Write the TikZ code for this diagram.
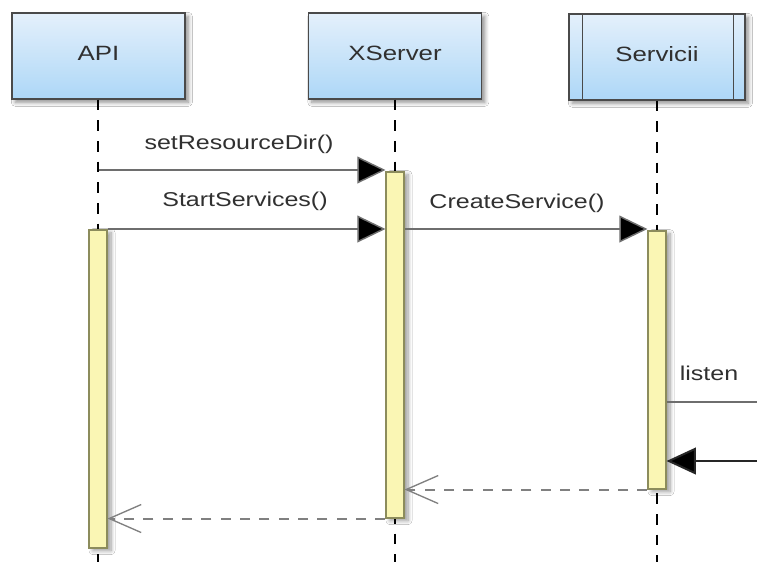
\documentclass[tikz,border=0pt]{standalone}
\usepackage{fontspec}
\newfontfamily\lblfont[FakeStretch=1.25]{Liberation Sans}
\usetikzlibrary{arrows.meta,shadows.blur,calc}

\definecolor{boxtop}{HTML}{E4F0FB}
\definecolor{boxbot}{HTML}{ADD7F7}
\definecolor{boxline}{HTML}{4A4A4A}
\definecolor{barfill}{HTML}{FAF6B4}
\definecolor{barline}{HTML}{8C8C5C}
\definecolor{msgline}{HTML}{6E6E6E}
\definecolor{retline}{HTML}{808080}
\definecolor{txt}{HTML}{303030}

\tikzset{
  objbox/.style={draw=boxline, line width=1.1pt, top color=boxtop, bottom color=boxbot,
    minimum height=64.5pt, inner sep=0pt, text depth=3.75pt, text=txt,
    font=\lblfont\fontsize{15.5pt}{18pt}\selectfont,
    blur shadow={shadow xshift=2.5pt, shadow yshift=-2.5pt, shadow blur steps=8, shadow blur radius=3pt, shadow opacity=45}},
  lifeline/.style={draw=black, line width=1.4pt, dash pattern=on 8pt off 7.5pt},
  actbar/.style={draw=barline, line width=0.8pt, fill=barfill, minimum width=13.5pt, inner sep=0pt,
    blur shadow={shadow xshift=3pt, shadow yshift=-2pt, shadow blur steps=8, shadow blur radius=3pt, shadow opacity=40}},
  msg/.style={draw=msgline, line width=1.1pt, -{Triangle[length=21pt, width=20pt, fill=black]}},
  msgplain/.style={draw=msgline, line width=1.1pt},
  incoming/.style={draw=black!85, line width=1.5pt, -{Triangle[length=22pt, width=20pt, fill=black]}},
  reply/.style={draw=retline, line width=1.5pt, dash pattern=on 7.5pt off 7pt,
    -{Straight Barb[length=24pt, width=21pt, line width=1pt]}},
  msglabel/.style={anchor=base, text=txt, inner sep=0pt, font=\lblfont\fontsize{15pt}{18pt}\selectfont}
}

\begin{document}
\begin{tikzpicture}[x=0.75pt, y=-0.75pt]
  % canvas
  \path[fill=white, use as bounding box] (0,0) rectangle (757,562);

  % object boxes
  \node[objbox, minimum width=129.75pt] (api) at (98.5,56) {API};
  \node[objbox, minimum width=129.75pt] (xsrv) at (395,56) {XServer};
  \node[objbox, minimum width=132pt] (svc) at (657,57) {Servicii};
  \draw[boxline, line width=1.1pt] ($(svc.north west)+(14,0)$) -- ($(svc.south west)+(14,0)$);
  \draw[boxline, line width=1.1pt] ($(svc.north east)+(-12,0)$) -- ($(svc.south east)+(-12,0)$);

  % lifelines
  \coordinate (apiend) at (98,562);
  \coordinate (xsrvend) at (395,562);
  \coordinate (svcend) at (657,562);
  \draw[lifeline] (api.south -| apiend) -- (apiend);
  \draw[lifeline] (xsrv.south -| xsrvend) -- (xsrvend);
  \draw[lifeline] (svc.south -| svcend) -- (svcend);

  % activation bars
  \node[actbar, minimum height=238.5pt] (apibar) at (98,389) {};
  \node[actbar, minimum height=259.5pt] (xbar) at (395,345) {};
  \node[actbar, minimum height=193.5pt] (sbar) at (657,360) {};

  % messages
  \draw[msg] (api.south |- 0,170) -- (xbar.west |- 0,170);
  \node[msglabel] (lblset) at (239,149) {setResourceDir()};

  \draw[msg] (apibar.east |- 0,229) -- (xbar.west |- 0,229);
  \node[msglabel] (lblstart) at (245,206) {StartServices()};

  \draw[msg] (xbar.east |- 0,229) -- (sbar.west |- 0,229);
  \node[msglabel] (lblcreate) at (517,208) {CreateService()};

  \coordinate (listenout) at (757,402);
  \draw[msgplain] (sbar.east |- listenout) -- (listenout);
  \node[msglabel] (lbllisten) at (709,380) {listen};

  \coordinate (incomingsrc) at (757,461);
  \draw[incoming] (incomingsrc) -- (sbar.east |- incomingsrc);

  % replies
  \draw[reply] (sbar.south west) -- (xbar.east |- sbar.south);
  \draw[reply] (xbar.south west) -- (apibar.east |- xbar.south);
\end{tikzpicture}
\end{document}
